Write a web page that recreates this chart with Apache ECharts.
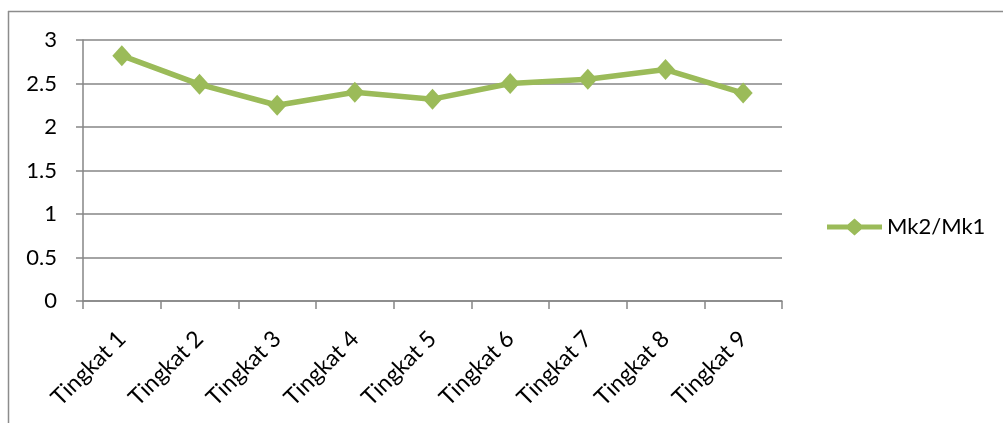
<!DOCTYPE html>
<html><head><meta charset="utf-8">
<script src="https://cdn.jsdelivr.net/npm/echarts@6/dist/echarts.min.js"></script>
<style>html,body{margin:0;padding:0;background:#fff}#c{width:1003px;height:423px}</style>
</head><body><div id="c"></div>
<script>
var categories = ["Tingkat 1","Tingkat 2","Tingkat 3","Tingkat 4","Tingkat 5","Tingkat 6","Tingkat 7","Tingkat 8","Tingkat 9"];
var seriesName = "Mk2/Mk1";
var values = [2.82, 2.49, 2.25, 2.40, 2.32, 2.50, 2.55, 2.66, 2.39];
var yTicks = [0, 0.5, 1, 1.5, 2, 2.5, 3];

var FONT = "Lato";
var chart = echarts.init(document.getElementById('c'));
chart.setOption({
  animation: false,
  graphic: [
    {type:'line', shape:{x1:8, y1:11.5, x2:1003, y2:11.5}, style:{stroke:'#8c8c8c', lineWidth:1.5}},
    {type:'line', shape:{x1:8.5, y1:11, x2:8.5, y2:423}, style:{stroke:'#8c8c8c', lineWidth:1.5}}
  ],
  grid: {left:83, right:221, top:40, bottom:122, containLabel:false},
  legend: {
    left: 822, top: 211, orient:'vertical',
    itemWidth: 55, itemHeight: 17, itemGap: 0,
    textStyle: {fontFamily: FONT, fontSize: 22, color:'#000', padding:[0,0,0,0]},
    data: [{name: seriesName, icon: 'path://M0,6 L20.7,6 L27.5,0 L34.3,6 L55,6 L55,11 L34.3,11 L27.5,17 L20.7,11 L0,11 Z'}]
  },
  xAxis: {
    type:'category', data: categories, boundaryGap: true,
    axisLine:{show:true, lineStyle:{color:'#868686', width:1.5}},
    axisTick:{show:true, interval:0, length:8, lineStyle:{color:'#868686', width:1.5}},
    axisLabel:{interval:0, rotate:45, margin:34, fontFamily:FONT, fontSize:23, color:'#000'},
    splitLine:{show:false}
  },
  yAxis: {
    type:'value', min: yTicks[0], max: yTicks[yTicks.length-1], interval: 0.5,
    axisLine:{show:true, lineStyle:{color:'#868686', width:1.5}},
    axisTick:{show:true, length:7, lineStyle:{color:'#868686', width:1.5}},
    axisLabel:{margin:26, fontFamily:FONT, fontSize:22, color:'#000'},
    splitLine:{show:true, lineStyle:{color:'#868686', width:1.5}}
  },
  series: [{
    name: seriesName, type:'line', data: values,
    symbol:'diamond', symbolSize:[19,21],
    lineStyle:{color:'#9BBB59', width:5.5},
    itemStyle:{color:'#9BBB59'}
  }]
});
</script></body></html>
